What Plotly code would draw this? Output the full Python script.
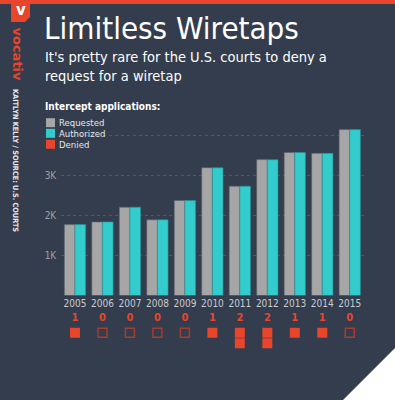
import plotly.graph_objects as go

years = ["2005", "2006", "2007", "2008", "2009", "2010", "2011", "2012", "2013", "2014", "2015"]
authorized = [1773, 1839, 2208, 1891, 2376, 3194, 2732, 3395, 3576, 3554, 4148]
denied = [1, 0, 0, 0, 0, 1, 2, 2, 1, 1, 0]
requested = [a + d for a, d in zip(authorized, denied)]
ytick_vals = [1000, 2000, 3000, 4000]
ytick_text = ["1K", "2K", "3K", ""]

W, H = 395, 400
BG = "#333d4d"
GRAY = "#a6a6a6"
TEAL = "#33cccc"
RED = "#e8452b"
DARKRED = "#a83c30"
NARROW = "DejaVu Sans Condensed, Liberation Sans Narrow, sans-serif"

def px(x):
    return x / W

def py(y):
    return 1 - y / H

fig = go.Figure()
fig.add_trace(go.Bar(x=years, y=requested, name="Requested", marker=dict(color=GRAY, line=dict(color="#5a5f68", width=0.6)),
                     xaxis="x", yaxis="y", showlegend=False))
fig.add_trace(go.Bar(x=years, y=authorized, name="Authorized", marker=dict(color=TEAL, line=dict(color="#2a8f95", width=0.6)),
                     xaxis="x", yaxis="y", showlegend=False))

fig.add_trace(go.Scatter(x=years, y=[-0.4] * len(years), mode="text", text=[f"<b>{d}</b>" for d in denied],
                         textfont=dict(color=RED, size=11, family=NARROW), xaxis="x2", yaxis="y2",
                         showlegend=False, hoverinfo="skip"))
fx, fy = [], []
ox, oy = [], []
for yr, d in zip(years, denied):
    if d == 0:
        ox.append(yr); oy.append(1)
    for k in range(1, d + 1):
        fx.append(yr); fy.append(k)
fig.add_trace(go.Scatter(x=fx, y=fy, mode="markers", marker=dict(symbol="square", size=10, color=RED, line=dict(width=0)),
                         xaxis="x2", yaxis="y2", showlegend=False, hoverinfo="skip"))
fig.add_trace(go.Scatter(x=ox, y=oy, mode="markers", marker=dict(symbol="square-open", size=9, color=DARKRED, line=dict(width=1.5, color=DARKRED)),
                         xaxis="x2", yaxis="y2", showlegend=False, hoverinfo="skip"))

xdom = [px(61.25), px(363.5)]
xrange = [-0.5, len(years) - 0.5]
fig.update_layout(
    width=W, height=H, margin=dict(l=0, r=0, t=0, b=0),
    paper_bgcolor=BG, plot_bgcolor="rgba(0,0,0,0)",
    barmode="group", bargap=0.225, bargroupgap=0,
    xaxis=dict(domain=xdom, type="category", range=xrange, showgrid=False, zeroline=False, showline=False, tickangle=0,
               automargin=False, tickfont=dict(color="#c9ccd1", size=10, family=NARROW), ticks="", ticklen=0),
    yaxis=dict(domain=[py(295.5), py(119.5)], range=[0, 4400], tickvals=ytick_vals, ticktext=ytick_text, automargin=False,
               showgrid=True, gridcolor="#4d5869", griddash="3px,3px", gridwidth=1, zeroline=False,
               showline=False, tickfont=dict(color="#9aa1ab", size=10, family=NARROW), ticks="", ticklabelstandoff=4),
    xaxis2=dict(domain=xdom, type="category", range=xrange, anchor="y2", showticklabels=False, showgrid=False,
                zeroline=False, showline=False, automargin=False),
    yaxis2=dict(domain=[py(355), py(300)], range=[(355 - 322.1) / 10.6, (300 - 322.1) / 10.6], anchor="x2",
                showticklabels=False, showgrid=False, zeroline=False, showline=False, automargin=False),
    showlegend=False,
)

shapes = []
shapes.append(dict(type="rect", xref="paper", yref="paper", x0=0, x1=1, y0=py(4), y1=1, fillcolor=RED, line=dict(width=0), layer="above"))
shapes.append(dict(type="path", xref="paper", yref="paper",
                   path=f"M {px(11)},{py(0)} L {px(30)},{py(0)} L {px(30)},{py(17)} L {px(25)},{py(22)} L {px(11)},{py(22)} Z",
                   fillcolor=RED, line=dict(width=0), layer="above"))
shapes.append(dict(type="rect", xref="paper", yref="paper", x0=px(40), x1=px(110), y0=py(150), y1=py(100),
                   fillcolor=BG, line=dict(width=0), layer="below"))
for yc, col in [(122.7, GRAY), (133.3, TEAL), (144.3, RED)]:
    shapes.append(dict(type="rect", xref="paper", yref="paper", x0=px(46), x1=px(55), y0=py(yc + 4.5), y1=py(yc - 4.5),
                       fillcolor=col, line=dict(width=0), layer="above"))
shapes.append(dict(type="path", xref="paper", yref="paper",
                   path=f"M {px(343)},{py(400)} L {px(395)},{py(348)} L {px(395)},{py(400)} Z",
                   fillcolor="white", line=dict(width=0), layer="above"))
fig.update_layout(shapes=shapes)

ann = []
ann.append(dict(text="Limitless Wiretaps", x=px(42), y=py(28), xref="paper", yref="paper", xanchor="left", yanchor="middle",
                showarrow=False, font=dict(color="white", size=31, family=NARROW)))
ann.append(dict(text="It's pretty rare for the U.S. courts to deny a<br>request for a wiretap", x=px(43), y=py(66),
                xref="paper", yref="paper", xanchor="left", yanchor="middle", align="left", showarrow=False,
                font=dict(color="white", size=14.5, family=NARROW)))
ann.append(dict(text="<b>Intercept applications:</b>", x=px(43), y=py(106), xref="paper", yref="paper", xanchor="left",
                yanchor="middle", showarrow=False, font=dict(color="white", size=10, family=NARROW)))
for yc, t in [(122.7, "Requested"), (133.3, "Authorized"), (144.3, "Denied")]:
    ann.append(dict(text=t, x=px(57), y=py(yc), xref="paper", yref="paper", xanchor="left", yanchor="middle",
                    showarrow=False, font=dict(color="#e6e8eb", size=9.5, family=NARROW)))
ann.append(dict(text="<b>v</b>", x=px(20.5), y=py(10), xref="paper", yref="paper", xanchor="center", yanchor="middle",
                showarrow=False, font=dict(color="white", size=15, family="DejaVu Sans")))
ann.append(dict(text="<b>vocativ</b>", x=px(17.5), y=py(25), xref="paper", yref="paper", xanchor="center", yanchor="top",
                textangle=90, showarrow=False, font=dict(color=RED, size=13, family="DejaVu Sans")))
ann.append(dict(text="<b>KAITLYN KELLY / SOURCE: U.S. COURTS</b>", x=px(15.5), y=py(87), xref="paper", yref="paper",
                xanchor="center", yanchor="top", textangle=90, showarrow=False,
                font=dict(color="#e6e8eb", size=7.3, family=NARROW)))
fig.update_layout(annotations=ann)

fig.write_html("out.html", config={"displayModeBar": False},
               post_script="document.body.style.margin='0';document.body.style.overflow='hidden';")
